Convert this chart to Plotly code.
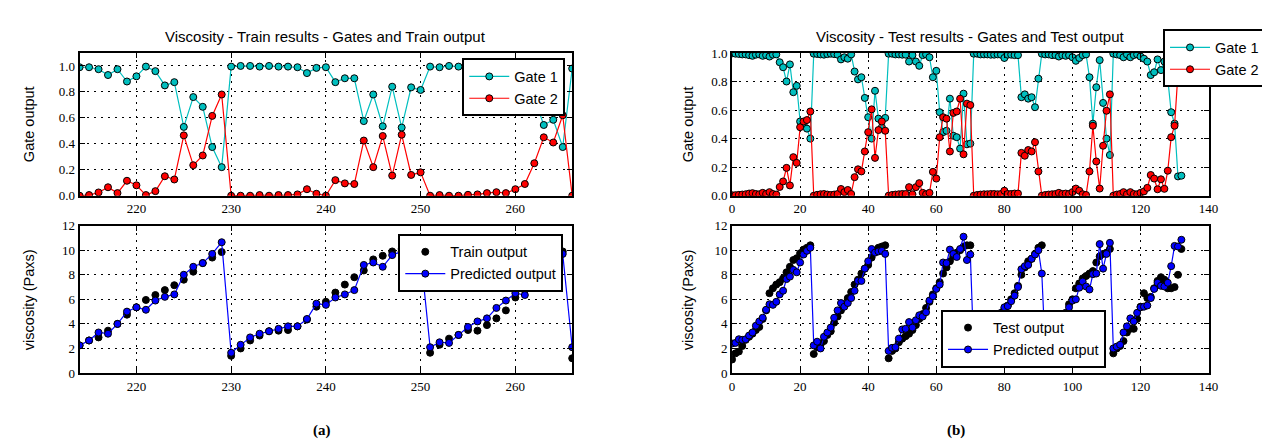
import plotly.graph_objects as go

# ---------------- data ----------------
train_x = list(range(214, 267))
train_gate1 = [0.99, 0.99, 0.975, 0.93, 0.975, 0.88, 0.92, 0.995, 0.96, 0.85, 0.875, 0.53, 0.76, 0.685, 0.375, 0.22,
               0.995, 1.0, 1.0, 0.995, 1.0, 0.995, 0.995, 0.99, 0.945, 0.985, 0.99, 0.875, 0.905, 0.905, 0.575, 0.78,
               0.535, 0.84, 0.525, 0.835, 0.815, 0.995, 0.99, 1.0, 0.995, 0.99, 0.99, 0.98, 0.97, 0.98, 0.95, 0.91,
               0.75, 0.545, 0.585, 0.375, 0.98]
train_gate2 = [0.0, 0.005, 0.025, 0.065, 0.02, 0.115, 0.08, 0.005, 0.035, 0.15, 0.125, 0.465, 0.235, 0.31, 0.615, 0.78,
               0.0, 0.0, 0.0, 0.005, 0.0, 0.005, 0.005, 0.01, 0.05, 0.015, 0.0, 0.12, 0.095, 0.09, 0.425, 0.22,
               0.46, 0.155, 0.47, 0.16, 0.18, 0.0, 0.005, 0.0, 0.0, 0.007, 0.01, 0.02, 0.027, 0.02, 0.05, 0.09,
               0.25, 0.45, 0.41, 0.62, 0.0]
train_actual = [2.25, 2.65, 2.9, 3.45, 4.0, 4.75, 5.35, 5.95, 6.35, 6.75, 7.15, 7.6, 8.25, 8.95, 9.4, 9.85,
                1.4, 2.0, 2.65, 3.05, 3.4, 3.45, 3.5, 3.8, 4.35, 5.4, 5.8, 6.55, 7.2, 7.8, 8.35, 9.25, 9.55, 9.9,
                10.1, 10.3, 10.4,
                1.65, 2.3, 2.8, 3.1, 3.5, 3.45, 3.9, 4.45, 5.1, 6.15, 6.75, 7.45, 8.4, 9.2, 9.9, 1.2]
train_pred = [2.25, 2.65, 3.3, 3.2, 4.0, 5.0, 5.35, 5.15, 5.9, 6.2, 6.4, 8.0, 8.65, 8.95, 9.7, 10.65,
              1.65, 2.3, 2.9, 3.2, 3.4, 3.6, 3.8, 3.8, 4.4, 5.65, 5.55, 6.15, 6.4, 6.75, 8.8, 9.0, 8.65, 9.6,
              9.9, 10.0, 9.7,
              2.1, 2.5, 2.45, 3.1, 3.75, 4.2, 4.45, 5.3, 5.9, 6.5, 6.35, 7.45, 8.3, 9.1, 9.7, 2.1]

test_x = list(range(0, 133))
test_gate1 = [0.997, 0.995, 0.993, 0.99, 0.99, 0.985, 0.98, 0.988, 0.99, 0.98, 0.985, 0.975, 0.988, 0.99,
              0.935, 0.90, 0.80, 0.92, 0.725, 0.77, 0.52, 0.50, 0.47, 0.40,
              0.995, 0.993, 0.99, 0.988, 0.992, 0.995, 0.992, 0.988,
              0.955, 0.97, 0.96, 0.99, 0.87, 0.815, 0.83, 0.685, 0.55, 0.40, 0.735, 0.54, 0.48, 0.545,
              0.995, 0.995, 0.99, 0.99, 0.988, 0.988, 0.94, 0.985, 0.94, 0.91, 0.985, 0.99, 0.97,
              0.83, 0.875, 0.585, 0.445, 0.455, 0.68, 0.42, 0.41, 0.33, 0.715, 0.36, 0.365,
              0.995, 0.995, 0.99, 0.99, 0.99, 0.988, 0.988, 0.99, 0.988, 0.965, 0.988, 0.988, 0.985, 0.985,
              0.69, 0.71, 0.68, 0.69, 0.62, 0.82,
              0.995, 0.99, 0.99, 0.985, 0.985, 0.975, 0.985, 0.98, 0.985,
              0.97, 0.945, 0.965, 0.985, 0.99, 0.83, 0.505, 0.76, 0.95, 0.65, 0.40, 0.285,
              0.995, 0.99, 0.985, 0.97, 0.99, 0.97, 0.985, 0.99, 0.975, 0.96,
              0.94, 0.845, 0.865, 0.955, 0.88, 0.94, 0.82, 0.585, 0.505, 0.135, 0.14]
test_gate2 = [0.003, 0.004, 0.006, 0.008, 0.01, 0.015, 0.018, 0.012, 0.01, 0.02, 0.012, 0.025, 0.012, 0.008,
              0.061, 0.10, 0.195, 0.072, 0.27, 0.23, 0.48, 0.52, 0.53, 0.59,
              0.0, 0.006, 0.01, 0.012, 0.008, 0.005, 0.008, 0.012,
              0.047, 0.025, 0.04, 0.012, 0.13, 0.185, 0.17, 0.31, 0.445, 0.605, 0.265, 0.46, 0.52, 0.455,
              0.0, 0.005, 0.008, 0.01, 0.012, 0.012, 0.06, 0.01, 0.06, 0.088, 0.02, 0.01, 0.02,
              0.167, 0.12, 0.41, 0.55, 0.54, 0.31, 0.58, 0.59, 0.68, 0.29, 0.645, 0.635,
              0.0, 0.005, 0.008, 0.01, 0.01, 0.012, 0.012, 0.01, 0.012, 0.035, 0.012, 0.012, 0.015, 0.015,
              0.30, 0.28, 0.32, 0.31, 0.375, 0.17,
              0.0, 0.005, 0.008, 0.01, 0.012, 0.02, 0.012, 0.015, 0.012,
              0.025, 0.05, 0.035, 0.01, 0.005, 0.17, 0.49, 0.24, 0.05, 0.35, 0.595, 0.71,
              0.0, 0.008, 0.012, 0.025, 0.01, 0.025, 0.012, 0.01, 0.02, 0.03,
              0.055, 0.145, 0.12, 0.045, 0.115, 0.048, 0.175, 0.41, 0.49, 0.86, 0.855]
test_actual = [1.1, 1.6, 1.75, 2.2, 2.7, 2.95, 3.2, 3.5, 3.75, 4.4, 5.1, 6.5, 6.9, 7.2, 7.4, 7.7, 8.2, 8.65,
               9.2, 9.35, 9.75, 10.05, 10.2, 10.4,
               1.55, 2.1, 2.3, 2.6, 3.1, 3.4, 4.1, 4.6, 5.1, 5.6, 6.1, 6.6, 7.2, 7.6, 8.1, 8.5, 8.8, 9.4,
               9.9, 10.2, 10.3, 10.4,
               1.2, 1.8, 2.0, 2.5, 2.8, 3.0, 3.2, 3.5, 3.9, 4.4, 4.8, 5.3, 5.8, 6.4, 6.9, 7.4, 8.1, 8.6,
               9.1, 9.5, 9.8, 10.0, 10.3, 10.4, 10.4,
               1.6, 2.0, 2.3, 2.7, 3.1, 3.5, 3.9, 4.3, 4.8, 5.2, 5.5, 6.0, 6.5, 7.1, 8.0, 8.6, 9.1, 9.3,
               9.7, 10.2, 10.4,
               1.7, 2.1, 2.7, 3.2, 3.7, 4.4, 4.8, 5.6, 6.0, 6.9, 7.3, 7.7, 7.9, 8.1, 8.3, 9.0, 9.5, 9.7,
               9.8, 10.1,
               1.6, 2.0, 2.2, 2.6, 3.3, 3.6, 3.6, 4.4, 5.4, 6.5, 6.1, 6.2, 6.9, 7.5, 7.8, 7.6, 6.9, 6.9,
               7.0, 8.0, 10.1]
test_pred = [2.4, 2.45, 2.75, 2.7, 2.75, 3.05, 3.3, 3.85, 4.2, 4.5, 5.15, 5.6, 5.55, 5.8, 6.4, 6.7, 7.65,
             7.85, 8.4, 8.2, 9.0, 9.65, 9.95, 10.2,
             2.25, 2.55, 2.0, 2.95, 3.3, 3.7, 4.5, 5.1, 5.7, 5.4, 5.7, 6.1, 6.7, 7.5, 7.5, 8.5, 9.1, 10.1,
             9.8, 9.9, 9.95, 9.7,
             1.8, 2.05, 2.1, 2.8, 3.55, 3.6, 4.15, 3.7, 4.3, 4.7, 4.6, 4.95, 5.9, 6.25, 6.85, 7.2, 9.0,
             8.95, 10.05, 9.7, 9.45, 10.1, 11.1, 9.2, 9.65,
             1.9, 2.2, 2.6, 3.0, 3.4, 3.8, 4.1, 4.4, 4.9, 5.35, 5.45, 5.85, 6.3, 7.0, 8.45, 8.7, 8.8,
             9.3, 9.65, 10.0, 8.1,
             1.9, 2.3, 2.9, 3.6, 4.4, 4.7, 4.9, 5.35, 5.9, 6.0, 6.95, 7.45, 7.05, 6.8, 8.05, 8.1, 10.5,
             8.5, 9.7, 10.6,
             2.0, 2.15, 2.3, 3.3, 3.8, 4.45, 4.2, 4.9, 5.35, 5.4, 5.5, 6.1, 6.85, 7.35, 7.1, 7.05, 7.35,
             8.7, 10.35, 10.3, 10.85]

train_xticks = [220, 230, 240, 250, 260]
test_xticks = [0, 20, 40, 60, 80, 100, 120, 140]
gate_yticks = [0.0, 0.2, 0.4, 0.6, 0.8, 1.0]
visc_yticks = [0, 2, 4, 6, 8, 10, 12]

# ---------------- style ----------------
W, H = 1270, 445
CYAN, RED, BLUE, BLACK = "#00BFBF", "#FF0000", "#0000FF", "#000000"
SANS = "Liberation Sans"
SERIF = "Liberation Serif"


def px_x(p):
    return p / W


def px_y(p):
    return 1 - p / H


LX = [px_x(69.3), px_x(567)]
RX = [px_x(728.5), px_x(1210)]
TY = [px_y(187), px_y(39.3)]
BY = [px_y(370.5), px_y(218)]

marker_line = dict(color=BLACK, width=1)

fig = go.Figure()


def line_trace(x, y, name, color, xa, ya, legend):
    return go.Scatter(x=x, y=y, name=name, mode="lines+markers",
                      line=dict(color=color, width=1.2),
                      marker=dict(color=color, size=7, line=marker_line),
                      xaxis=xa, yaxis=ya, legend=legend)


def dot_trace(x, y, name, xa, ya, legend):
    return go.Scatter(x=x, y=y, name=name, mode="markers",
                      marker=dict(color=BLACK, size=7, line=marker_line),
                      xaxis=xa, yaxis=ya, legend=legend)


# train gates
fig.add_trace(line_trace(train_x, train_gate1, "Gate 1", CYAN, "x", "y", "legend"))
fig.add_trace(line_trace(train_x, train_gate2, "Gate 2", RED, "x", "y", "legend"))
# train viscosity
fig.add_trace(dot_trace(train_x, train_actual, "Train output", "x2", "y2", "legend2"))
fig.add_trace(line_trace(train_x, train_pred, "Predicted output", BLUE, "x2", "y2", "legend2"))
# test gates
fig.add_trace(line_trace(test_x, test_gate1, "Gate 1", CYAN, "x3", "y3", "legend3"))
fig.add_trace(line_trace(test_x, test_gate2, "Gate 2", RED, "x3", "y3", "legend3"))
# test viscosity
fig.add_trace(dot_trace(test_x, test_actual, "Test output", "x4", "y4", "legend4"))
fig.add_trace(line_trace(test_x, test_pred, "Predicted output", BLUE, "x4", "y4", "legend4"))

axis_style = dict(showline=True, linewidth=2, linecolor=BLACK, mirror="allticks",
                  ticks="inside", ticklen=5, tickwidth=1, tickcolor=BLACK,
                  showgrid=True, gridcolor=BLACK, gridwidth=1, griddash="2px,5px",
                  zeroline=False, tickfont=dict(family=SERIF, size=13, color=BLACK))

legend_style = dict(bordercolor=BLACK, borderwidth=2, bgcolor="white",
                    font=dict(family=SANS, size=14.5, color=BLACK),
                    itemwidth=40, tracegroupgap=0)

fig.update_layout(
    width=W, height=H, margin=dict(l=0, r=0, t=0, b=0),
    paper_bgcolor="white", plot_bgcolor="white", showlegend=True,
    xaxis=dict(domain=LX, anchor="y", range=[214, 266], tickvals=train_xticks, **axis_style),
    yaxis=dict(domain=TY, anchor="x", range=[0, 1.1], tickvals=gate_yticks, tickformat=".1f", **axis_style),
    xaxis2=dict(domain=LX, anchor="y2", range=[214, 266], tickvals=train_xticks, **axis_style),
    yaxis2=dict(domain=BY, anchor="x2", range=[0, 12], tickvals=visc_yticks, **axis_style),
    xaxis3=dict(domain=RX, anchor="y3", range=[0, 140], tickvals=test_xticks, **axis_style),
    yaxis3=dict(domain=TY, anchor="x3", range=[0, 1.0], tickvals=gate_yticks, tickformat=".1f", **axis_style),
    xaxis4=dict(domain=RX, anchor="y4", range=[0, 140], tickvals=test_xticks, **axis_style),
    yaxis4=dict(domain=BY, anchor="x4", range=[0, 12], tickvals=visc_yticks, **axis_style),
    legend=dict(x=px_x(560), y=px_y(45), xanchor="right", yanchor="top", **legend_style),
    legend2=dict(x=px_x(558), y=px_y(226.5), xanchor="right", yanchor="top", **legend_style),
    legend3=dict(x=px_x(1268), y=px_y(15), xanchor="right", yanchor="top", **legend_style),
    legend4=dict(x=px_x(1023), y=px_y(365), xanchor="center", yanchor="bottom", **legend_style),
)

annotations = [
    dict(text="Viscosity - Train results - Gates and Train output", x=(LX[0] + LX[1]) / 2, y=px_y(22),
         font=dict(family=SANS, size=15, color=BLACK)),
    dict(text="Viscosity - Test results - Gates and Test output", x=(RX[0] + RX[1]) / 2, y=px_y(22),
         font=dict(family=SANS, size=15, color=BLACK)),
    dict(text="Gate output", x=px_x(19), y=(TY[0] + TY[1]) / 2, textangle=-90,
         font=dict(family=SANS, size=14.5, color=BLACK)),
    dict(text="viscosity (Paxs)", x=px_x(19), y=(BY[0] + BY[1]) / 2, textangle=-90,
         font=dict(family=SANS, size=14.5, color=BLACK)),
    dict(text="Gate output", x=px_x(684), y=(TY[0] + TY[1]) / 2, textangle=-90,
         font=dict(family=SANS, size=14.5, color=BLACK)),
    dict(text="viscosity (Paxs)", x=px_x(684), y=(BY[0] + BY[1]) / 2, textangle=-90,
         font=dict(family=SANS, size=14.5, color=BLACK)),
    dict(text="<b>(a)</b>", x=px_x(314), y=px_y(430), font=dict(family=SERIF, size=15, color=BLACK)),
    dict(text="<b>(b)</b>", x=px_x(955), y=px_y(430), font=dict(family=SERIF, size=15, color=BLACK)),
]
for a in annotations:
    fig.add_annotation(xref="paper", yref="paper", showarrow=False,
                       xanchor="center", yanchor="middle", **a)

fig.write_html("out.html")
